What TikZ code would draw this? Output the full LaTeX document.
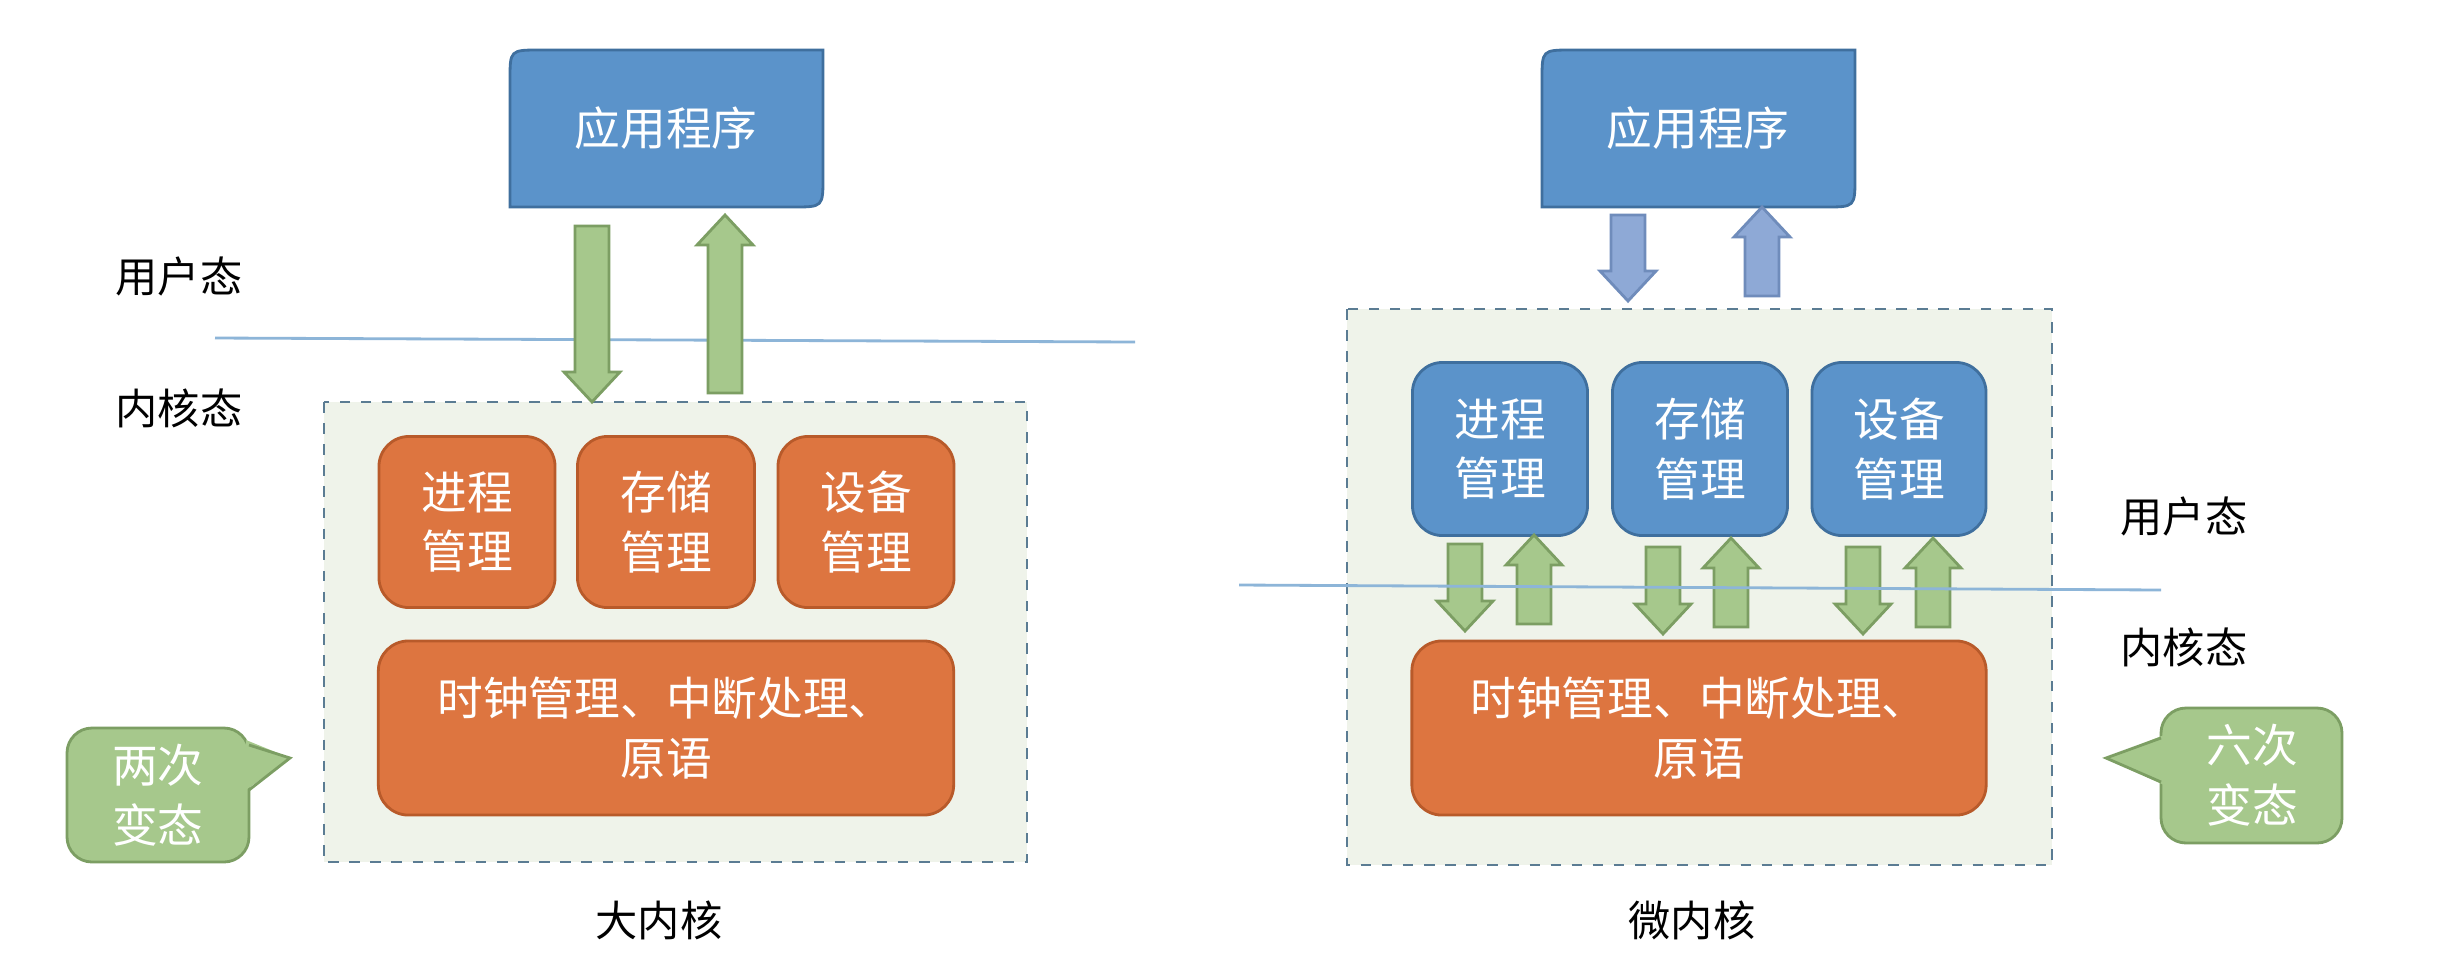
\documentclass[tikz,border=0pt]{standalone}
\usepackage{fontspec}
\setmainfont{Noto Sans CJK SC}
\begin{document}
\begin{tikzpicture}[x=0.01cm,y=-0.01cm,
  txt/.style={font=\fontsize{13}{17}\selectfont},
  lbl/.style={font=\fontsize{12}{15}\selectfont, text=black},
  orange/.style={fill=orgc, draw=orgd, line width=0.8pt, rounded corners=0.3cm},
  blue/.style={fill=bluc, draw=blud, line width=0.8pt, rounded corners=0.3cm},
  garrow/.style={fill=grc, draw=grd, line width=0.8pt},
  barrow/.style={fill=lbc, draw=lbd, line width=0.8pt},
  kbox/.style={fill=kfill, draw=kdraw, dashed, line width=0.6pt},
  sep/.style={draw=linec, line width=0.8pt},
  callout/.style={fill=grc, draw=grd, line width=0.8pt, rounded corners=0.25cm}]
\definecolor{orgc}{HTML}{DD7540}
\definecolor{orgd}{HTML}{B85A2A}
\definecolor{bluc}{HTML}{5B93CA}
\definecolor{blud}{HTML}{3F6F9E}
\definecolor{grc}{HTML}{A6C88C}
\definecolor{grd}{HTML}{7C9E63}
\definecolor{lbc}{HTML}{8EA9D6}
\definecolor{lbd}{HTML}{6F8CBB}
\definecolor{kfill}{HTML}{EFF3EA}
\definecolor{kdraw}{HTML}{5B7C93}
\definecolor{linec}{HTML}{8DB5D8}
\newcommand\DnArrow[4]{\draw[#4] (#1-17,#2) -- (#1+17,#2) -- (#1+17,#3-30) -- (#1+28,#3-30) -- (#1,#3) -- (#1-28,#3-30) -- (#1-17,#3-30) -- cycle;}
\newcommand\UpArrow[4]{\draw[#4] (#1-17,#2) -- (#1+17,#2) -- (#1+17,#3+30) -- (#1+28,#3+30) -- (#1,#3) -- (#1-28,#3+30) -- (#1-17,#3+30) -- cycle;}
\newcommand\AppBox[4]{\draw[fill=bluc, draw=blud, line width=0.8pt] (#1,#4) -- (#1,#2+30) .. controls (#1,#2) .. (#1+30,#2) -- (#3,#2) -- (#3,#4-30) .. controls (#3,#4) .. (#3-30,#4) -- cycle;}
\useasboundingbox[fill=white] (0,0) rectangle (2445,972);

% ---------- left ----------
\draw[kbox] (324,402) rectangle (1027,862);
\draw[sep] (215,338) -- (1135,342);
\AppBox{510}{50}{823}{207}
\node[txt,text=white] (appL) at (666,128) {应用程序};
\DnArrow{592}{226}{402}{garrow}
\UpArrow{725}{393}{215}{garrow}
\node[lbl] (uL) at (179,276) {用户态};
\node[lbl] (kL) at (179,408) {内核态};
\node[orange, minimum width=1.76cm, minimum height=1.71cm, txt, text=white, align=center] (p1) at (467,522) {进程\\管理};
\node[orange, minimum width=1.77cm, minimum height=1.71cm, txt, text=white, align=center] (p2) at (666,522) {存储\\管理};
\node[orange, minimum width=1.76cm, minimum height=1.71cm, txt, text=white, align=center] (p3) at (866,522) {设备\\管理};
\node[orange, minimum width=5.75cm, minimum height=1.74cm, txt, text=white, align=center] (bL) at (666,728) {时钟管理、中断处理、\\原语};
\draw[callout] (67,728) rectangle (249,862);
\fill[grc] (246,740) -- (290,758) -- (246,790) -- cycle;
\draw[grd, line width=0.8pt] (249,745) -- (290,758) -- (249,790);
\node[txt,text=white,align=center] (cL) at (158,795) {两次\\变态};
\node[lbl] (tL) at (659,920) {大内核};

% ---------- right ----------
\draw[kbox] (1347,309) rectangle (2052,865);
\AppBox{1542}{50}{1855}{207}
\node[txt,text=white] (appR) at (1698,128) {应用程序};
\DnArrow{1628}{215}{301}{barrow}
\UpArrow{1762}{296}{207}{barrow}
\node[blue, minimum width=1.75cm, minimum height=1.73cm, txt, text=white, align=center] (q1) at (1500,449) {进程\\管理};
\node[blue, minimum width=1.75cm, minimum height=1.73cm, txt, text=white, align=center] (q2) at (1700,449) {存储\\管理};
\node[blue, minimum width=1.74cm, minimum height=1.73cm, txt, text=white, align=center] (q3) at (1899,449) {设备\\管理};
\DnArrow{1465}{544}{631}{garrow}
\UpArrow{1534}{624}{535}{garrow}
\DnArrow{1663}{547}{634}{garrow}
\UpArrow{1731}{627}{538}{garrow}
\DnArrow{1863}{547}{634}{garrow}
\UpArrow{1933}{627}{538}{garrow}
\draw[sep] (1239,585) -- (2161,590);
\node[orange, minimum width=5.74cm, minimum height=1.74cm, txt, text=white, align=center] (bR) at (1699,728) {时钟管理、中断处理、\\原语};
\node[lbl] (uR) at (2184,516) {用户态};
\node[lbl] (kR) at (2184,647) {内核态};
\draw[callout] (2161,708) rectangle (2342,843);
\fill[grc] (2164,735) -- (2106,758) -- (2164,785) -- cycle;
\draw[grd, line width=0.8pt] (2161,738) -- (2106,758) -- (2161,782);
\node[txt,text=white,align=center] (cR) at (2252,775) {六次\\变态};
\node[lbl] (tR) at (1692,920) {微内核};
\end{tikzpicture}
\end{document}
